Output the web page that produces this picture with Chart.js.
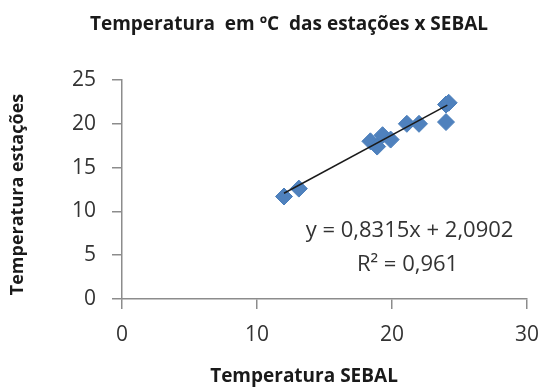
<!DOCTYPE html>
<html>
<head>
<meta charset="utf-8">
<script src="https://cdn.jsdelivr.net/npm/chart.js@4"></script>
<style>
  html, body { margin: 0; padding: 0; background: #fff; }
  #wrap { width: 542px; height: 387px; position: relative; }
</style>
</head>
<body>
<div id="wrap"><canvas id="chart"></canvas></div>
<script>
/* ─── Data ───────────────────────────────────────────────── */
const sebalTemps    = [12.0, 13.1, 18.4, 18.9, 19.3, 19.9, 21.1, 22.0, 24.0, 24.2, 24.0];
const stationTemps  = [11.7, 12.6, 18.0, 17.4, 18.7, 18.2, 20.0, 20.0, 22.2, 22.4, 20.2];
const trendX        = [12.0, 24.1];
const trendY        = [12.07, 22.13];
const xTicks        = [0, 10, 20, 30];
const yTicks        = [0, 5, 10, 15, 20, 25];
const chartTitle    = 'Temperatura  em ºC  das estações x SEBAL';
const xTitle        = 'Temperatura SEBAL';
const yTitle        = 'Temperatura estações';
const equationLines = ['y = 0,8315x + 2,0902', 'R² = 0,961'];

const FONT = 'Open Sans';
const AXIS_GREY = '#8c8c8c';

/* ─── Titles + equation label ────────────────────────────── */
const textLayer = {
  id: 'textLayer',
  afterDraw(chart) {
    const { ctx, chartArea, scales: { x, y } } = chart;
    ctx.save();
    ctx.textAlign = 'center';
    ctx.textBaseline = 'middle';

    ctx.fillStyle = '#1a1a1a';
    ctx.font = `bold 19px "${FONT}"`;
    ctx.fillText(chartTitle, 289, 25);

    ctx.font = `bold 19px "${FONT}"`;
    ctx.fillText(xTitle, 304, 377);

    ctx.save();
    ctx.translate(18, (chartArea.top + chartArea.bottom) / 2 + 5);
    ctx.rotate(-Math.PI / 2);
    ctx.font = `bold 18px "${FONT}"`;
    ctx.fillText(yTitle, 0, 0);
    ctx.restore();

    ctx.fillStyle = '#333';
    ctx.font = `22px "${FONT}"`;
    const cx = x.getPixelForValue(21.3);
    ctx.fillText(equationLines[0], cx, y.getPixelForValue(7.8));
    ctx.fillText(equationLines[1], cx - 2, y.getPixelForValue(3.9));
    ctx.restore();
  }
};

const points = sebalTemps.map((v, i) => ({ x: v, y: stationTemps[i] }));
const trend  = trendX.map((v, i) => ({ x: v, y: trendY[i] }));

new Chart(document.getElementById('chart'), {
  type: 'scatter',
  data: {
    datasets: [
      {
        label: 'Temperatura',
        data: points,
        pointStyle: 'rectRot',
        pointRadius: 8.5,
        pointHoverRadius: 8.5,
        backgroundColor: '#4f81bd',
        borderColor: '#4a7ebb',
        borderWidth: 1,
        order: 2
      },
      {
        label: 'Tendência',
        data: trend,
        type: 'line',
        showLine: true,
        borderColor: '#1a1a1a',
        borderWidth: 1.5,
        pointRadius: 0,
        fill: false,
        order: 1
      }
    ]
  },
  options: {
    responsive: true,
    maintainAspectRatio: false,
    animation: false,
    layout: { padding: { top: 80, right: 15, left: 0, bottom: 0 } },
    plugins: {
      legend: { display: false },
      tooltip: { enabled: false },
      title: { display: false }
    },
    scales: {
      x: {
        type: 'linear',
        min: 0, max: 30,
        afterBuildTicks: (s) => { s.ticks = xTicks.map(v => ({ value: v })); },
        afterFit: (s) => { s.height = 88; s.paddingRight = 0; s.paddingLeft = 0; },
        border: { display: true, color: AXIS_GREY, width: 1.5 },
        grid: { drawOnChartArea: false, drawTicks: true, tickLength: 10, color: AXIS_GREY, lineWidth: 1.5 },
        ticks: { color: '#333', padding: 13, font: { family: FONT, size: 21 } }
      },
      y: {
        type: 'linear',
        min: 0, max: 25,
        afterBuildTicks: (s) => { s.ticks = yTicks.map(v => ({ value: v })); },
        afterFit: (s) => { s.width = 122; s.paddingTop = 0; s.paddingBottom = 0; },
        border: { display: true, color: AXIS_GREY, width: 1.5 },
        grid: { drawOnChartArea: false, drawTicks: true, tickLength: 10, color: AXIS_GREY, lineWidth: 1.5 },
        ticks: { color: '#333', padding: 16, font: { family: FONT, size: 21 } }
      }
    }
  },
  plugins: [textLayer]
});
</script>
</body>
</html>
